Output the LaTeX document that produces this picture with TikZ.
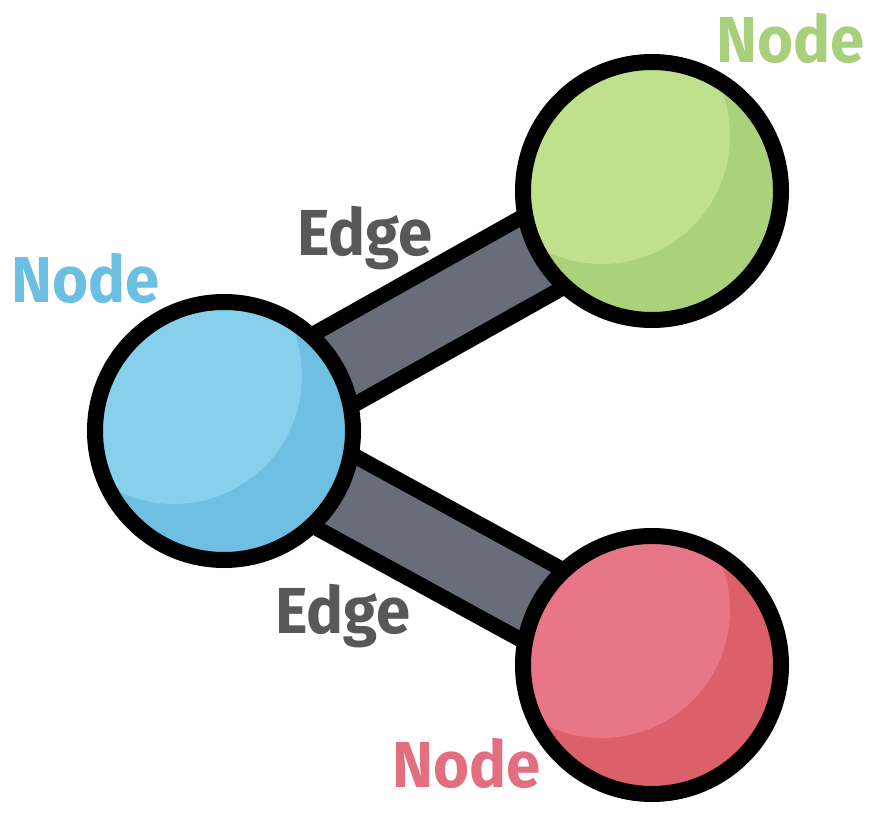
\documentclass[tikz,border=0pt]{standalone}
\usepackage{fontspec}
\setmainfont{Fira Sans}
\usetikzlibrary{backgrounds}
\definecolor{blueL}{HTML}{86D0EC}
\definecolor{blueD}{HTML}{6FBFE2}
\definecolor{greenL}{HTML}{BFE08D}
\definecolor{greenD}{HTML}{AAD27A}
\definecolor{redL}{HTML}{E87686}
\definecolor{redD}{HTML}{DB6069}
\definecolor{barG}{HTML}{676E79}
\definecolor{edgeT}{HTML}{58585A}
\definecolor{nodeB}{HTML}{6BBFE3}
\definecolor{nodeG}{HTML}{A8D07A}
\definecolor{nodeR}{HTML}{E26E7F}
\newcommand{\narrowtxt}[1]{\scalebox{0.95}[1]{#1}}
\tikzset{
  ball/.style 2 args={circle, inner sep=0pt, minimum size=258pt, line width=16pt,
    draw=black, fill=#2,
    path picture={\fill[#1] ([xshift=-50pt,yshift=55pt]path picture bounding box.center) circle[radius=128pt];}},
  barout/.style={line width=97pt, draw=black},
  barin/.style={line width=66pt, draw=barG},
  lbl/.style={font=\fontsize{65}{70}\selectfont\bfseries, anchor=base, inner sep=0pt}
}
\begin{document}
\begin{tikzpicture}[x=1pt,y=-1pt]
\useasboundingbox (0,0) rectangle (884,824);
\node[ball={blueL}{blueD}] (b) at (224,431) {};
\node[ball={greenL}{greenD}] (g) at (652,191) {};
\node[ball={redL}{redD}] (r) at (652,665) {};
\begin{scope}[on background layer]
\draw[barout] (b.center) -- (g.center);
\draw[barout] (b.center) -- (r.center);
\draw[barin] (b.center) -- (g.center);
\draw[barin] (b.center) -- (r.center);
\end{scope}
\node[lbl, text=nodeB] (tb) at (86,302) {\narrowtxt{Node}};
\node[lbl, text=nodeG] (tg) at (791,63) {\narrowtxt{Node}};
\node[lbl, text=nodeR] (tr) at (467,787) {\narrowtxt{Node}};
\node[lbl, text=edgeT] (e1) at (365,255) {\narrowtxt{Edge}};
\node[lbl, text=edgeT] (e2) at (343,633) {\narrowtxt{Edge}};
\end{tikzpicture}
\end{document}
